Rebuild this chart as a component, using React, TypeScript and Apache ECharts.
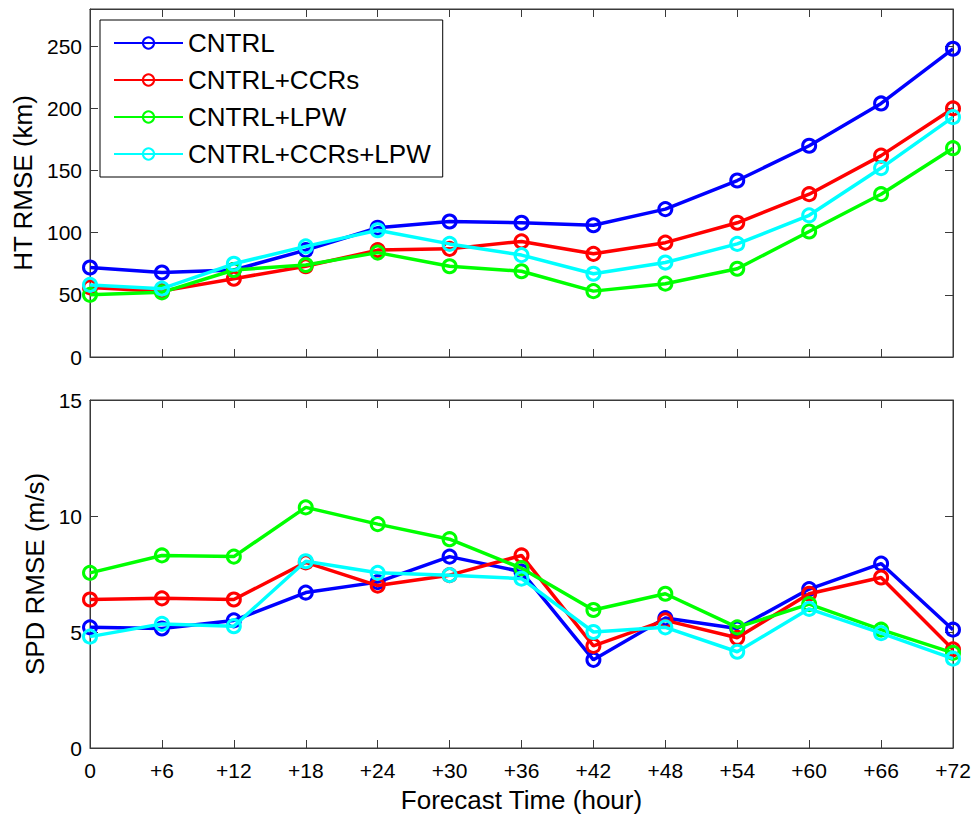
import React, { useEffect, useRef } from "react";
import * as echarts from "echarts";

const hours = ["0", "+6", "+12", "+18", "+24", "+30", "+36", "+42", "+48", "+54", "+60", "+66", "+72"];

const seriesNames = ["CNTRL", "CNTRL+CCRs", "CNTRL+LPW", "CNTRL+CCRs+LPW"];
const seriesColors = ["#0000ff", "#ff0000", "#00ff00", "#00ffff"];

const htCntrl = [72, 68, 70, 86, 104, 109, 108, 106, 119, 142, 170, 204, 248];
const htCcrs = [56, 53, 63, 73, 86, 87, 93, 83, 92, 108, 131, 162, 200];
const htLpw = [50, 52, 70, 74, 84, 73, 69, 53, 59, 71, 101, 131, 168];
const htCcrsLpw = [58, 55, 75, 89, 102, 91, 82, 67, 76, 91, 114, 152, 193];

const spdCntrl = [5.2, 5.15, 5.5, 6.7, 7.15, 8.25, 7.6, 3.8, 5.6, 5.15, 6.85, 7.95, 5.1];
const spdCcrs = [6.4, 6.45, 6.4, 8.0, 7.0, 7.45, 8.3, 4.4, 5.5, 4.75, 6.65, 7.35, 4.25];
const spdLpw = [7.55, 8.3, 8.25, 10.37, 9.65, 9.0, 7.75, 5.95, 6.65, 5.2, 6.2, 5.1, 4.1];
const spdCcrsLpw = [4.8, 5.35, 5.25, 8.05, 7.55, 7.45, 7.3, 5.0, 5.2, 4.15, 6.0, 4.95, 3.85];

const htData = [htCntrl, htCcrs, htLpw, htCcrsLpw];
const spdData = [spdCntrl, spdCcrs, spdLpw, spdCcrsLpw];

const FONT = "'Liberation Sans', Arial, Helvetica, sans-serif";
const AXIS_COLOR = "#3a3a3a";

export default function App() {
  const ref = useRef<HTMLDivElement>(null);

  useEffect(() => {
    if (!ref.current) return;
    const chart = echarts.init(ref.current, null, { renderer: "svg" });

    const axisLine = { show: true, onZero: false, lineStyle: { color: AXIS_COLOR, width: 1 } };
    const tick = { show: true, inside: true, length: 8, lineStyle: { color: AXIS_COLOR, width: 1 } };

    const xBase = (gridIndex: number, position: string, showLabel: boolean) => ({
      type: "category",
      gridIndex,
      position,
      data: hours,
      boundaryGap: false,
      axisLine,
      axisTick: { ...tick, interval: 0 },
      axisLabel: {
        show: showLabel,
        interval: 0,
        margin: 12,
        color: "#000",
        fontSize: 21,
        fontFamily: FONT,
      },
      splitLine: { show: false },
    });

    const yBase = (gridIndex: number, position: string, max: number, interval: number, showLabel: boolean, showMax: boolean) => ({
      type: "value",
      gridIndex,
      position,
      min: 0,
      max,
      interval,
      axisLine,
      axisTick: tick,
      axisLabel: {
        show: showLabel,
        showMaxLabel: showMax,
        margin: 8,
        color: "#000",
        fontSize: 21,
        fontFamily: FONT,
      },
      splitLine: { show: false },
    });

    const series: any[] = [];
    seriesNames.forEach((name, i) => {
      const c = seriesColors[i];
      const common = {
        type: "line",
        name,
        symbol: "circle",
        symbolSize: 13,
        clip: false,
        itemStyle: { color: "rgba(0,0,0,0)", borderColor: c, borderWidth: 3 },
        lineStyle: { color: c, width: 3.5 },
        emphasis: { disabled: true },
        z: 2 + i,
      };
      series.push({ ...common, xAxisIndex: 0, yAxisIndex: 0, data: htData[i] });
      series.push({ ...common, xAxisIndex: 2, yAxisIndex: 2, data: spdData[i] });
    });

    const gridStyle = { show: true, borderColor: AXIS_COLOR, borderWidth: 1, backgroundColor: "transparent" };

    chart.setOption({
      animation: false,
      backgroundColor: "#fff",
      grid: [
        { left: 90, top: 9, width: 863, height: 348, ...gridStyle },
        { left: 90, top: 400, width: 863, height: 348, ...gridStyle },
      ],
      xAxis: [
        xBase(0, "bottom", false),
        xBase(0, "top", false),
        {
          ...xBase(1, "bottom", true),
          name: "Forecast Time (hour)",
          nameLocation: "middle",
          nameGap: 39,
          nameTextStyle: { fontSize: 26, color: "#000", fontFamily: FONT },
        },
        xBase(1, "top", false),
      ],
      yAxis: [
        {
          ...yBase(0, "left", 280, 50, true, false),
          name: "HT RMSE (km)",
          nameLocation: "middle",
          nameGap: 54,
          nameTextStyle: { fontSize: 26, color: "#000", fontFamily: FONT },
        },
        yBase(0, "right", 280, 50, false, false),
        {
          ...yBase(1, "left", 15, 5, true, true),
          name: "SPD RMSE (m/s)",
          nameLocation: "middle",
          nameGap: 37,
          nameTextStyle: { fontSize: 26, color: "#000", fontFamily: FONT },
        },
        yBase(1, "right", 15, 5, false, false),
      ],
      legend: {
        data: seriesNames,
        orient: "vertical",
        left: 100,
        top: 20,
        itemWidth: 69,
        itemHeight: 14,
        itemGap: 9,
        padding: [9, 12, 9, 13],
        backgroundColor: "#fff",
        borderColor: "#000",
        borderWidth: 1,
        borderRadius: 0,
        selectedMode: false,
        textStyle: { fontSize: 26, lineHeight: 28, color: "#000", fontFamily: FONT },
        z: 10,
      },
      series,
    });

    return () => chart.dispose();
  }, []);

  return (
    <div
      ref={ref}
      style={{ position: "fixed", left: 0, top: 0, width: 977, height: 818 }}
    />
  );
}
